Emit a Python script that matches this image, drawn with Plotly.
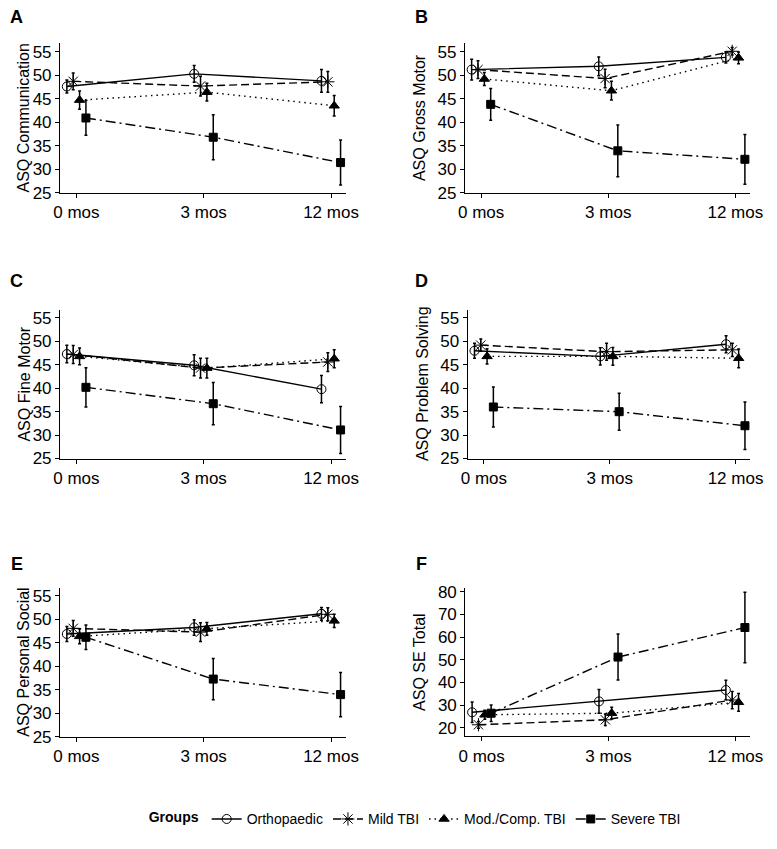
import plotly.graph_objects as go

W, H = 777, 849

timepoints = ["0 mos", "3 mos", "12 mos"]
groups = ["Orthopaedic", "Mild TBI", "Mod./Comp. TBI", "Severe TBI"]
panel_letters = ["A", "B", "C", "D", "E", "F"]
panel_titles = ["ASQ Communication", "ASQ Gross Motor", "ASQ Fine Motor",
                "ASQ Problem Solving", "ASQ Personal Social", "ASQ SE Total"]

# means[panel][group] -> values at 0, 3, 12 mos ; errs same shape (half-width of error bar)
comm_mean = [[47.6, 50.3, 48.8], [48.7, 47.7, 48.6], [44.7, 46.4, 43.5], [40.9, 36.8, 31.4]]
comm_err = [[1.4, 1.8, 2.4], [1.8, 2.1, 2.2], [1.95, 1.9, 2.2], [3.7, 4.8, 4.8]]
gross_mean = [[51.2, 51.9, 53.8], [51.2, 49.3, 55.1], [49.2, 46.7, 53.7], [43.8, 33.9, 32.1]]
gross_err = [[2.2, 2.0, 1.2], [1.9, 1.95, 0.8], [1.4, 2.0, 1.25], [3.4, 5.5, 5.3]]
fine_mean = [[47.3, 44.9, 39.8], [47.2, 44.3, 45.6], [46.8, 44.3, 46.3], [40.2, 36.7, 31.1]]
fine_err = [[1.85, 2.25, 2.9], [1.9, 2.1, 2.0], [1.8, 2.1, 1.9], [4.2, 4.5, 5.0]]
prob_mean = [[48.0, 46.8, 49.4], [49.2, 47.8, 48.2], [46.8, 46.8, 46.4], [36.0, 35.0, 32.0]]
prob_err = [[1.6, 1.85, 1.8], [1.3, 1.8, 1.4], [1.65, 1.9, 2.0], [4.25, 3.95, 5.05]]
pers_mean = [[46.9, 48.3, 51.2], [48.1, 47.3, 51.1], [46.4, 48.0, 49.7], [46.2, 37.3, 34.0]]
pers_err = [[1.6, 1.65, 1.35], [1.7, 2.0, 1.4], [1.6, 1.35, 1.4], [2.6, 4.4, 4.7]]
se_mean = [[26.9, 31.7, 36.7], [21.4, 23.6, 32.3], [25.8, 26.5, 31.3], [26.5, 51.2, 64.2]]
se_err = [[4.5, 5.2, 4.3], [1.5, 2.5, 3.8], [2.0, 2.6, 3.9], [3.6, 10.1, 15.5]]

means = [comm_mean, gross_mean, fine_mean, prob_mean, pers_mean, se_mean]
errs = [comm_err, gross_err, fine_err, prob_err, pers_err, se_err]

y_ticks_main = [25, 30, 35, 40, 45, 50, 55]
y_ticks_se = [20, 30, 40, 50, 60, 70, 80]

# styling
symbols = ["circle-open", "asterisk-open", "triangle-up", "square"]
sizes = [9, 11, 9, 8]
dashes = ["solid", "8px,4px", "1.5px,4px", "10px,4px,2px,4px"]
dodge = [-0.075, -0.025, 0.025, 0.075]

# panel boxes in page pixels (left, right, top, bottom)
boxes = [
    (54.5, 348, 39, 191),
    (470, 763, 39, 191),
    (54.5, 348, 310, 461.7),
    (473, 763, 310, 461.7),
    (54.5, 348, 593, 745),
    (470.5, 763, 593, 744.3),
]
letter_pos = [(10, 12), (425, 12), (10, 281), (425, 281), (10, 569), (425, 569)]
title_x = [17, 424, 17, 426, 17, 424]


def px(x):
    return x / W


def py(y):
    return 1 - y / H


FONT = "Liberation Sans, Arial, sans-serif"
TICK = 17

fig = go.Figure()
layout = dict(
    width=W, height=H, margin=dict(l=0, r=0, t=0, b=0),
    paper_bgcolor="white", plot_bgcolor="white",
    font=dict(family=FONT, color="black", size=TICK),
    showlegend=True, hovermode=False,
)
annotations = []

for p in range(6):
    xa = "x" if p == 0 else f"x{p+1}"
    ya = "y" if p == 0 else f"y{p+1}"
    xk = "xaxis" if p == 0 else f"xaxis{p+1}"
    yk = "yaxis" if p == 0 else f"yaxis{p+1}"
    l, r, t, b = boxes[p]
    for g in range(4):
        xs = [i + dodge[g] for i in range(len(timepoints))]
        fig.add_trace(go.Scatter(
            x=xs, y=means[p][g], xaxis=xa, yaxis=ya,
            mode="lines+markers", name=groups[g], legendgroup=groups[g],
            showlegend=(p == 0),
            line=dict(color="black", width=1.4, dash=dashes[g]),
            marker=dict(symbol=symbols[g], size=sizes[g], color="black",
                        line=dict(color="black", width=1)),
            error_y=dict(type="data", array=errs[p][g], visible=True,
                         color="black", thickness=1.5, width=1.5),
        ))
    layout[xk] = dict(
        domain=[px(l), px(r)], anchor=ya, range=[-0.128, 2.118],
        tickvals=[0, 1, 2], ticktext=timepoints, ticks="outside", ticklen=4,
        tickwidth=1, tickcolor="black", showline=True, linecolor="black",
        linewidth=1.3, showgrid=False, zeroline=False,
        tickfont=dict(size=TICK, family=FONT), fixedrange=True,
    )
    if p == 5:
        yr = [16.4, 81.8]
        yt = y_ticks_se
    else:
        yr = [25, 56.8]
        yt = y_ticks_main
    layout[yk] = dict(
        domain=[py(b), py(t)], anchor=xa, range=yr,
        tickvals=yt, ticks="outside", ticklen=4, tickwidth=1, tickcolor="black",
        showline=True, linecolor="black", linewidth=1.3, showgrid=False,
        zeroline=False, tickfont=dict(size=TICK, family=FONT), fixedrange=True,
    )
    annotations.append(dict(
        x=px(letter_pos[p][0]), y=py(letter_pos[p][1]), xref="paper", yref="paper",
        text=f"<b>{panel_letters[p]}</b>", showarrow=False, xanchor="center",
        yanchor="middle", font=dict(size=18, family=FONT, color="black"),
    ))
    annotations.append(dict(
        x=px(title_x[p]), y=py((t + b) / 2), xref="paper", yref="paper",
        text=panel_titles[p], textangle=-90, showarrow=False, xanchor="center",
        yanchor="middle", font=dict(size=16, family=FONT, color="black"),
    ))

layout["annotations"] = annotations
layout["legend"] = dict(
    orientation="h", x=px(420), y=py(829), xanchor="center", yanchor="middle",
    title=dict(text="<b>Groups</b>", font=dict(size=14, family=FONT)),
    font=dict(size=14, family=FONT), itemwidth=30, bgcolor="rgba(0,0,0,0)",
    tracegroupgap=0,
)
fig.update_layout(**layout)
# remove the browser's default body margin so the figure fills the 777x849 window exactly
fig.write_html("out.html", config={"displayModeBar": False},
               post_script="document.body.style.margin='0px';")
